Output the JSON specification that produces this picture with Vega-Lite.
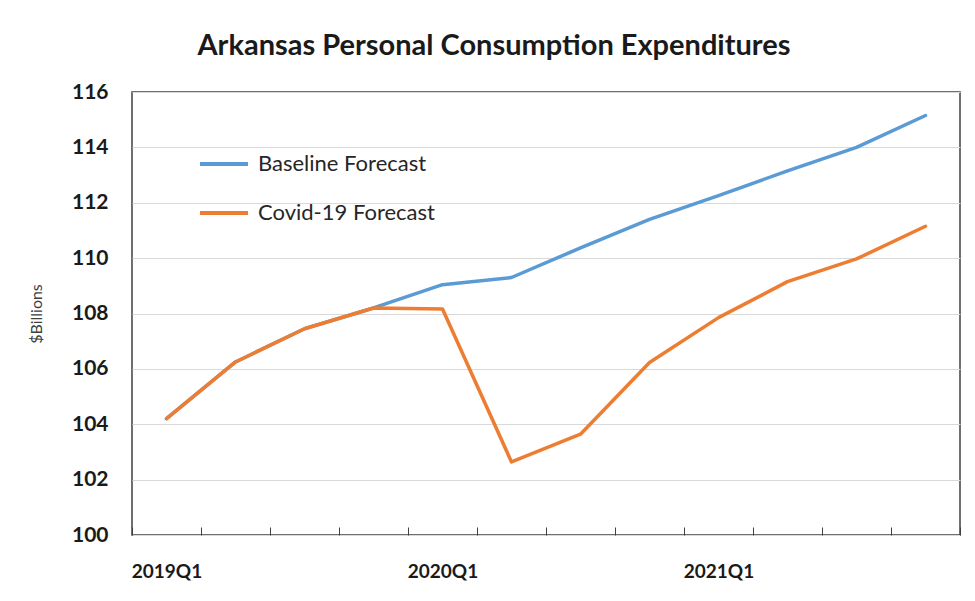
{
  "$schema": "https://vega.github.io/schema/vega-lite/v6.json",
  "width": 828,
  "height": 443,
  "autosize": "none",
  "padding": {"left": 132, "top": 92, "right": 15, "bottom": 66},
  "background": "white",
  "title": {
    "text": "Arkansas Personal Consumption Expenditures",
    "font": "Lato",
    "fontSize": 29,
    "fontWeight": "bold",
    "color": "#1a1a1a",
    "anchor": "middle",
    "dx": -52,
    "offset": 20
  },
  "data": {
    "values": [
      {"quarter": "2019Q1", "series": "Baseline Forecast", "value": 104.2},
      {"quarter": "2019Q2", "series": "Baseline Forecast", "value": 106.25},
      {"quarter": "2019Q3", "series": "Baseline Forecast", "value": 107.45},
      {"quarter": "2019Q4", "series": "Baseline Forecast", "value": 108.2},
      {"quarter": "2020Q1", "series": "Baseline Forecast", "value": 109.04},
      {"quarter": "2020Q2", "series": "Baseline Forecast", "value": 109.3},
      {"quarter": "2020Q3", "series": "Baseline Forecast", "value": 110.37},
      {"quarter": "2020Q4", "series": "Baseline Forecast", "value": 111.4},
      {"quarter": "2021Q1", "series": "Baseline Forecast", "value": 112.26},
      {"quarter": "2021Q2", "series": "Baseline Forecast", "value": 113.15},
      {"quarter": "2021Q3", "series": "Baseline Forecast", "value": 114.0},
      {"quarter": "2021Q4", "series": "Baseline Forecast", "value": 115.15},
      {"quarter": "2019Q1", "series": "Covid-19 Forecast", "value": 104.2},
      {"quarter": "2019Q2", "series": "Covid-19 Forecast", "value": 106.25},
      {"quarter": "2019Q3", "series": "Covid-19 Forecast", "value": 107.45},
      {"quarter": "2019Q4", "series": "Covid-19 Forecast", "value": 108.2},
      {"quarter": "2020Q1", "series": "Covid-19 Forecast", "value": 108.16},
      {"quarter": "2020Q2", "series": "Covid-19 Forecast", "value": 102.64},
      {"quarter": "2020Q3", "series": "Covid-19 Forecast", "value": 103.64},
      {"quarter": "2020Q4", "series": "Covid-19 Forecast", "value": 106.23},
      {"quarter": "2021Q1", "series": "Covid-19 Forecast", "value": 107.85},
      {"quarter": "2021Q2", "series": "Covid-19 Forecast", "value": 109.15},
      {"quarter": "2021Q3", "series": "Covid-19 Forecast", "value": 109.97},
      {"quarter": "2021Q4", "series": "Covid-19 Forecast", "value": 111.15}
    ]
  },
  "mark": {"type": "line", "strokeWidth": 3.5, "strokeCap": "round", "strokeJoin": "round"},
  "encoding": {
    "x": {
      "field": "quarter",
      "type": "ordinal",
      "sort": null,
      "scale": {"type": "band", "paddingInner": 0, "paddingOuter": 0},
      "axis": {
        "title": null,
        "domain": false,
        "grid": false,
        "tickBand": "extent",
        "tickSize": -8,
        "tickColor": "#404040",
        "tickWidth": 1,
        "labelAngle": 0,
        "labelFont": "Lato",
        "labelFontSize": 19,
        "labelFontWeight": "bold",
        "labelColor": "#1a1a1a",
        "labelPadding": 35,
        "labelExpr": "substring(datum.label, 4) == 'Q1' ? datum.label : ''"
      }
    },
    "y": {
      "field": "value",
      "type": "quantitative",
      "scale": {"domain": [100, 116], "nice": false, "zero": false},
      "axis": {
        "title": "$Billions",
        "titleFont": "Lato",
        "titleFontSize": 16,
        "titleFontWeight": "normal",
        "titleColor": "#404040",
        "titlePadding": 27,
        "values": [100, 102, 104, 106, 108, 110, 112, 114, 116],
        "domain": false,
        "ticks": false,
        "grid": true,
        "gridColor": "#d9d9d9",
        "gridWidth": 1.2,
        "labelFont": "Lato",
        "labelFontSize": 21,
        "labelFontWeight": "bold",
        "labelColor": "#1a1a1a",
        "labelPadding": 24
      }
    },
    "color": {
      "field": "series",
      "type": "nominal",
      "scale": {"domain": ["Baseline Forecast", "Covid-19 Forecast"], "range": ["#5B9BD5", "#ED7D31"]},
      "legend": {
        "title": null,
        "orient": "none",
        "legendX": 66,
        "legendY": 46,
        "symbolType": "stroke",
        "symbolSize": 2304,
        "symbolStrokeWidth": 4,
        "labelFont": "Lato",
        "labelFontSize": 22,
        "labelLimit": 400,
        "labelColor": "#262626",
        "labelOffset": 8,
        "rowPadding": 12
      }
    }
  },
  "config": {
    "view": {"stroke": "#404040", "strokeWidth": 1.5}
  }
}
